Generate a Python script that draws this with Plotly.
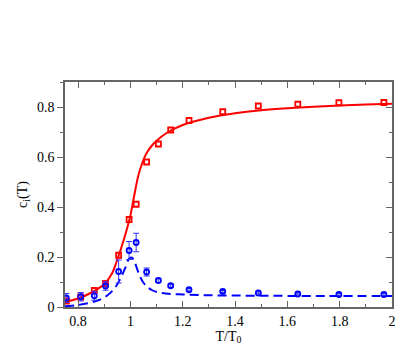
import plotly.graph_objects as go

# measured points
t_pts = [0.755, 0.81, 0.862, 0.905, 0.955, 0.995, 1.022, 1.062, 1.107, 1.154,
         1.224, 1.353, 1.489, 1.640, 1.797, 1.969]
red_pts = [0.024, 0.040, 0.066, 0.094, 0.207, 0.350, 0.411, 0.580, 0.652, 0.708,
           0.746, 0.781, 0.804, 0.811, 0.817, 0.818]
blue_pts = [0.036, 0.041, 0.045, 0.084, 0.142, 0.226, 0.258, 0.140, 0.106, 0.085,
            0.069, 0.062, 0.056, 0.052, 0.050, 0.050]
blue_err = [0.018, 0.017, 0.018, 0.017, 0.046, 0.036, 0.037, 0.016, 0.008, 0.006,
            0.005, 0.004, 0.004, 0.004, 0.004, 0.004]

# fitted curves
t_red = [0.75, 0.80, 0.85, 0.90, 0.93, 0.95, 0.975, 1.0, 1.01, 1.02, 1.03, 1.045,
         1.06, 1.08, 1.10, 1.14, 1.2, 1.3, 1.4, 1.5, 1.6, 1.7, 1.8, 1.9, 2.0]
red_fit = [0.020, 0.034, 0.057, 0.092, 0.135, 0.19, 0.27, 0.365, 0.42, 0.475, 0.525, 0.575,
           0.612, 0.643, 0.665, 0.697, 0.728, 0.757, 0.775, 0.787, 0.795, 0.801, 0.806,
           0.810, 0.813]
t_blue = [0.75, 0.80, 0.85, 0.88, 0.91, 0.94, 0.96, 0.98, 0.995, 1.005, 1.015, 1.03,
          1.05, 1.08, 1.12, 1.2, 1.3, 1.5, 1.75, 2.0]
blue_fit = [0.003, 0.008, 0.018, 0.028, 0.045, 0.075, 0.11, 0.155, 0.193, 0.198, 0.183,
            0.14, 0.097, 0.069, 0.056, 0.050, 0.047, 0.045, 0.044, 0.044]

fig = go.Figure()
fig.add_trace(go.Scatter(x=t_red, y=red_fit, mode="lines", line_shape="spline",
                         line=dict(color="#ff0000", width=2)))
fig.add_trace(go.Scatter(x=t_blue, y=blue_fit, mode="lines", line_shape="spline",
                         line=dict(color="#0000ff", width=2, dash="9px,5px")))
fig.add_trace(go.Scatter(x=t_pts, y=red_pts, mode="markers",
                         marker=dict(symbol="square-open", size=5, color="#ff0000",
                                     line=dict(width=1.8))))
fig.add_trace(go.Scatter(x=t_pts, y=blue_pts, mode="markers",
                         error_y=dict(type="data", array=blue_err, color="#3333ff",
                                      thickness=1, width=3),
                         marker=dict(symbol="circle-open", size=5, color="#0000ff",
                                     line=dict(width=1.8))))
# keeps the right-hand axis alive
fig.add_trace(go.Scatter(x=[1.5], y=[0.5], yaxis="y2", mode="markers",
                         marker=dict(opacity=0), hoverinfo="skip"))

serif = "Liberation Serif"
font = dict(family=serif, size=14, color="black")
axis_common = dict(showgrid=False, zeroline=False, linecolor="#666", linewidth=1.5,
                   tickcolor="#666", tickwidth=1.2, ticklen=6, tickfont=font)

fig.update_layout(
    width=415, height=344,
    margin=dict(l=57, r=31, t=74, b=38),
    paper_bgcolor="white", plot_bgcolor="white",
    font=font,
    showlegend=False,
    xaxis=dict(range=[0.75, 2.0], tickvals=[0.8, 1, 1.2, 1.4, 1.6, 1.8, 2],
               ticktext=["0.8", "1", "1.2", "1.4", "1.6", "1.8", "2"],
               ticks="inside", mirror="ticks",
               minor=dict(dtick=0.1, tick0=0, ticks="inside", ticklen=3.5, tickcolor="#666"),
               title=dict(text="T/T<sub>0</sub>", font=font, standoff=2),
               **axis_common),
    yaxis=dict(range=[0, 0.9], tickvals=[0, 0.2, 0.4, 0.6, 0.8],
               ticktext=["0", "0.2", "0.4", "0.6", "0.8"],
               ticks="outside", mirror=True,
               minor=dict(dtick=0.1, tick0=0, ticks="outside", ticklen=3.5, tickcolor="#666"),
               title=dict(text="c<sub>i</sub>(T)", font=font, standoff=6),
               **axis_common),
    yaxis2=dict(range=[0, 0.9], overlaying="y", side="right", showticklabels=False,
                tickvals=[0, 0.2, 0.4, 0.6, 0.8], ticks="inside",
                minor=dict(dtick=0.1, tick0=0, ticks="inside", ticklen=3.5, tickcolor="#666"),
                showgrid=False, zeroline=False, showline=False,
                tickcolor="#666", tickwidth=1.2, ticklen=6),
)

fig.write_html("out.html")
